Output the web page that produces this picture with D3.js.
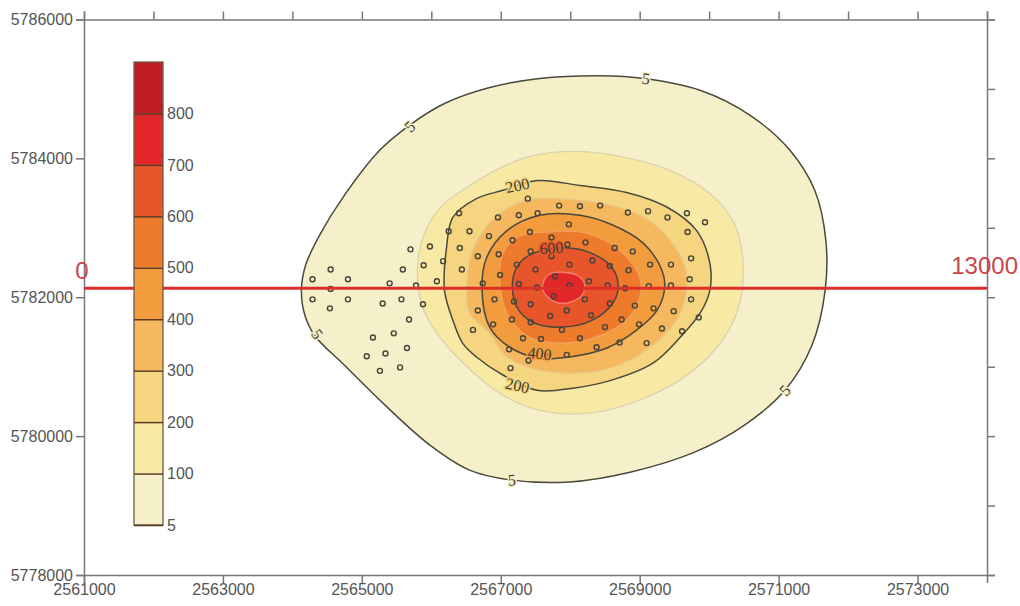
<!DOCTYPE html>
<html>
<head>
<meta charset="utf-8">
<title>Contour map</title>
<script src="https://cdn.jsdelivr.net/npm/d3@7"></script>
<style>
	html, body { margin: 0; padding: 0; background: #fff; }
	svg { display: block; }
	text { font-family: "Liberation Sans", Arial, sans-serif; }
	.axis text { fill: #555; font-size: 16px; }
	.axis path, .axis line { stroke: #777; stroke-width: 1.5; }
	.contour-label { font-family: "Liberation Serif", serif; font-size: 16px; fill: #3d3d33; text-anchor: middle; dominant-baseline: central; }
	.profile-label { fill: #c9464c; font-size: 24px; }
</style>
</head>
<body>
<svg id="chart" width="1020" height="606"></svg>
<script>
// Contour levels, low to high. Last entry only closes the colour bar.
var levels = [ 5, 100, 200, 300, 400, 500, 600, 700, 800, 900 ];
var bandColors = [ '#f6f0ca', '#f8e9a4', '#f5d580', '#f5b85e', '#f39c3e', '#ee7a2c', '#e9552a', '#e2262a', '#bf1c24' ];
var xTicksMajor = [ 2561000, 2563000, 2565000, 2567000, 2569000, 2571000, 2573000 ];
var xTicksMinor = [ 2561000, 2562000, 2563000, 2564000, 2565000, 2566000, 2567000, 2568000, 2569000, 2570000, 2571000, 2572000, 2573000, 2574000 ];
var yTicksMajor = [ 5778000, 5780000, 5782000, 5784000, 5786000 ];
var yTicksMinor = [ 5778000, 5779000, 5780000, 5781000, 5782000, 5783000, 5784000, 5785000, 5786000 ];

// Contours, as easting / northing pairs.
var contour5 = [ [2564130,5782100], [2564190,5782460], [2564390,5782890], [2564750,5783470], [2565260,5784120], [2565690,5784480], [2566190,5784790], [2566840,5785020], [2567560,5785150], [2568430,5785190], [2569070,5785150], [2569870,5784980], [2570590,5784620], [2571160,5784120], [2571520,5783540], [2571680,5782820], [2571670,5782100], [2571480,5781310], [2571090,5780660], [2570510,5780160], [2569790,5779770], [2568860,5779480], [2567990,5779340], [2567130,5779370], [2566550,5779510], [2565980,5779870], [2565330,5780450], [2564750,5781020], [2564320,5781450], [2564180,5781740] ];
var contour100 = [ [2565800,5782390], [2565880,5782860], [2566120,5783280], [2566510,5783580], [2566990,5783860], [2567420,5784030], [2568070,5784100], [2568710,5784030], [2569430,5783830], [2570040,5783470], [2570370,5783040], [2570490,5782460], [2570410,5781810], [2570080,5781240], [2569580,5780810], [2569000,5780520], [2568280,5780330], [2567560,5780370], [2567030,5780590], [2566450,5781060], [2566020,5781570], [2565860,5781910] ];
var contour200 = [ [2566190,5782100], [2566220,5782720], [2566310,5783150], [2566650,5783420], [2567030,5783540], [2567520,5783680], [2568140,5783610], [2568810,5783510], [2569390,5783300], [2569820,5782960], [2570010,5782490], [2570010,5782100], [2569870,5781770], [2569580,5781420], [2569190,5781050], [2568610,5780810], [2568040,5780690], [2567520,5780660], [2567030,5780880], [2566650,5781140], [2566450,5781340], [2566310,5781670] ];
var contour300 = [ [2566510,5782100], [2566580,5782630], [2566810,5783040], [2567130,5783300], [2567420,5783410], [2567810,5783420], [2568610,5783320], [2569190,5783070], [2569620,5782530], [2569680,5782140], [2569530,5781670], [2569100,5781240], [2568610,5780990], [2568140,5780910], [2567560,5780950], [2567090,5781140], [2566840,5781480], [2566550,5781770] ];
var contour400 = [ [2566730,5782140], [2566800,5782580], [2567090,5782960], [2567560,5783180], [2568140,5783180], [2568610,5783040], [2569050,5782780], [2569320,5782390], [2569360,5782140], [2569250,5781810], [2568960,5781530], [2568530,5781270], [2567990,5781140], [2567560,5781120], [2567130,5781280], [2566840,5781570] ];
var contour500 = [ [2566990,5782200], [2567030,5782630], [2567230,5782860], [2567660,5782940], [2568240,5782920], [2568710,5782680], [2569000,5782290], [2569000,5782000], [2568810,5781670], [2568320,5781410], [2567890,5781340], [2567420,5781420], [2567090,5781770] ];
var contour600 = [ [2567170,5782240], [2567270,5782490], [2567460,5782630], [2567990,5782710], [2568380,5782600], [2568610,5782420], [2568690,5782140], [2568610,5781910], [2568320,5781670], [2567890,5781570], [2567460,5781640], [2567230,5781860] ];
var contour700 = [ [2567600,5782140], [2567680,5782320], [2567890,5782360], [2568140,5782290], [2568210,5782140], [2568140,5782000], [2567890,5781910], [2567680,5782000] ];

// Sample locations.
var samples = [ [2564290,5782260], [2564550,5782400], [2564800,5782260], [2564550,5782120], [2564290,5781970], [2564800,5781970], [2564540,5781840], [2565400,5782200], [2565590,5782400], [2565700,5782690], [2565980,5782730], [2565890,5782460], [2566170,5782520], [2565780,5782170], [2566080,5782230], [2565300,5781910], [2565570,5781970], [2565880,5781900], [2565680,5781680], [2565460,5781480], [2565160,5781420], [2565650,5781270], [2565340,5781190], [2565070,5781150], [2565550,5780990], [2565260,5780940], [2566400,5783210], [2566250,5782950], [2566550,5782950], [2566410,5782710], [2566670,5782590], [2566440,5782400], [2566960,5783150], [2567260,5783180], [2567390,5783420], [2566830,5782880], [2567170,5782820], [2566970,5782620], [2566990,5782320], [2566740,5782200], [2566910,5781970], [2566670,5781810], [2566600,5781530], [2566890,5781610], [2567120,5781250], [2567140,5780980], [2567160,5781680], [2567320,5781410], [2567190,5781940], [2567260,5782190], [2567230,5782470], [2567430,5782660], [2567500,5782400], [2567420,5782940], [2567530,5783210], [2567430,5781900], [2567430,5781640], [2567840,5783320], [2568140,5783310], [2568430,5783320], [2568830,5783220], [2569120,5783240], [2569400,5783150], [2569680,5783210], [2569940,5783080], [2569690,5782940], [2567980,5783050], [2567730,5782860], [2567960,5782760], [2568220,5782790], [2568640,5782710], [2568900,5782660], [2567730,5782590], [2567990,5782470], [2568320,5782530], [2568570,5782450], [2568840,5782390], [2569150,5782470], [2569450,5782470], [2569740,5782560], [2569720,5782260], [2567780,5782300], [2568270,5782230], [2567520,5782140], [2567990,5782170], [2568540,5782170], [2568790,5782130], [2569130,5782160], [2569450,5782170], [2567760,5782010], [2568210,5781970], [2568570,5781910], [2568930,5781880], [2569200,5781840], [2569490,5781800], [2569740,5781970], [2569850,5781710], [2567710,5781730], [2567950,5781810], [2568300,5781740], [2568740,5781680], [2568990,5781610], [2569320,5781550], [2569610,5781510], [2567880,5781530], [2568500,5781570], [2567580,5781400], [2568140,5781410], [2568710,5781350], [2569100,5781340], [2568380,5781280], [2567400,5781090], [2567650,5781150], [2567950,5781170] ];

// Inline contour labels: level, easting, northing.
var contourLabels = [ [5,2569090,5785150], [5,2565690,5784460], [5,2564360,5781470], [5,2567160,5779370], [5,2571090,5780660], [200,2567240,5783610], [200,2567240,5780730], [400,2567560,5781190], [600,2567730,5782710] ];
var contourLabelAngles = [ 8, -42, 55, -4, -48, -12, 12, 6, -4 ];

// Profile line along the section.
var profile = [ [2561000,5782130], [2574000,5782130] ];
var profileEnds = [ '0', '13000' ];

var svg = d3.select( '#chart' );

var x = d3.scaleLinear().domain( [ 2561000, 2574000 ] ).range( [ 84, 987 ] );
var y = d3.scaleLinear().domain( [ 5778000, 5786000 ] ).range( [ 575, 19.5 ] );

var contourLine = d3.line()
	.x( function ( d ) { return x( d[0] ); } )
	.y( function ( d ) { return y( d[1] ); } )
	.curve( d3.curveCatmullRomClosed.alpha( 0.5 ) );

var contours = [ contour5, contour100, contour200, contour300, contour400, contour500, contour600, contour700 ];
var contourStrokes = [ '#4a4a3c', '#d9d2b0', '#4a4a3c', '#e8c888', '#4a4a3c', '#f2a060', '#4a4a3c', '#f08070' ];

// Filled bands, outermost first. Even levels get the dark line, the rest a pale one.
svg.append( 'g' ).selectAll( 'path' )
	.data( contours )
	.enter()
	.append( 'path' )
	.attr( 'd', contourLine )
	.attr( 'fill', function ( d, i ) { return bandColors[i]; } )
	.attr( 'stroke', function ( d, i ) { return contourStrokes[i]; } )
	.attr( 'stroke-width', function ( d, i ) { return i % 2 === 0 ? 1.5 : 1.3; } );

svg.append( 'g' ).selectAll( 'circle' )
	.data( samples )
	.enter()
	.append( 'circle' )
	.attr( 'cx', function ( d ) { return x( d[0] ); } )
	.attr( 'cy', function ( d ) { return y( d[1] ); } )
	.attr( 'r', 2.5 )
	.attr( 'fill', 'none' )
	.attr( 'stroke', '#45453c' )
	.attr( 'stroke-width', 1.4 );

svg.append( 'g' ).selectAll( 'text' )
	.data( contourLabels )
	.enter()
	.append( 'text' )
	.attr( 'class', 'contour-label' )
	.attr( 'transform', function ( d, i ) {
		return 'translate(' + x( d[1] ) + ',' + y( d[2] ) + ') rotate(' + contourLabelAngles[i] + ')';
	} )
	.style( 'paint-order', 'stroke' )
	.style( 'stroke', function ( d ) { return d[0] === 5 ? bandColors[0] : bandColors[ levels.indexOf( d[0] ) ]; } )
	.style( 'stroke-width', 3 )
	.text( function ( d ) { return d[0]; } );

// Axes. Labelled sides step every 2000, the other two every 1000.
svg.append( 'g' ).attr( 'class', 'axis' )
	.attr( 'transform', 'translate(0,' + y( 5778000 ) + ')' )
	.call( d3.axisBottom( x ).tickValues( xTicksMajor ).tickFormat( d3.format( 'd' ) ).tickSize( 8 ).tickPadding( 1 ) );
svg.append( 'g' ).attr( 'class', 'axis' )
	.attr( 'transform', 'translate(0,' + y( 5786000 ) + ')' )
	.call( d3.axisTop( x ).tickValues( xTicksMinor ).tickFormat( '' ).tickSize( 8 ) );
svg.append( 'g' ).attr( 'class', 'axis' )
	.attr( 'transform', 'translate(' + x( 2561000 ) + ',0)' )
	.call( d3.axisLeft( y ).tickValues( yTicksMajor ).tickFormat( d3.format( 'd' ) ).tickSize( 8 ).tickPadding( 3 ) );
svg.append( 'g' ).attr( 'class', 'axis' )
	.attr( 'transform', 'translate(' + x( 2574000 ) + ',0)' )
	.call( d3.axisRight( y ).tickValues( yTicksMinor ).tickFormat( '' ).tickSize( 8 ) );

// Red section line and its end labels.
svg.append( 'path' )
	.attr( 'd', d3.line().x( function ( d ) { return x( d[0] ); } ).y( function ( d ) { return y( d[1] ); } )( profile ) )
	.attr( 'stroke', '#dd2f2a' )
	.attr( 'stroke-width', 3 )
	.attr( 'fill', 'none' );
svg.append( 'text' ).attr( 'class', 'profile-label' )
	.attr( 'x', x( profile[0][0] ) - 2 ).attr( 'y', 279 )
	.attr( 'text-anchor', 'middle' )
	.text( profileEnds[0] );
svg.append( 'text' ).attr( 'class', 'profile-label' )
	.attr( 'x', 1018 ).attr( 'y', 274 )
	.attr( 'text-anchor', 'end' )
	.text( profileEnds[1] );

// Colour bar sits on top of the section line.
var barLeft = 134;
var barWidth = 29;
var bar = d3.scalePoint().domain( levels ).range( [ 525, 62 ] );
var barGroup = svg.append( 'g' );
barGroup.selectAll( 'rect' )
	.data( bandColors )
	.enter()
	.append( 'rect' )
	.attr( 'x', barLeft )
	.attr( 'width', barWidth )
	.attr( 'y', function ( d, i ) { return bar( levels[ i + 1 ] ); } )
	.attr( 'height', function ( d, i ) { return bar( levels[i] ) - bar( levels[ i + 1 ] ); } )
	.attr( 'fill', function ( d ) { return d; } );
barGroup.append( 'rect' )
	.attr( 'x', barLeft )
	.attr( 'y', bar( 900 ) )
	.attr( 'width', barWidth )
	.attr( 'height', bar( 5 ) - bar( 900 ) )
	.attr( 'fill', 'none' )
	.attr( 'stroke', '#6b5c45' )
	.attr( 'stroke-width', 1.3 );
var barAxis = barGroup.append( 'g' ).attr( 'class', 'axis' )
	.attr( 'transform', 'translate(' + ( barLeft + barWidth ) + ',0)' )
	.call( d3.axisRight( bar ).tickValues( levels.slice( 0, -1 ) ).tickSize( -barWidth ).tickPadding( 4 ) );
barAxis.select( '.domain' ).remove();
barAxis.selectAll( 'line' ).attr( 'stroke', '#5a3a22' ).style( 'stroke', '#5a3a22' );
</script>
</body>
</html>
